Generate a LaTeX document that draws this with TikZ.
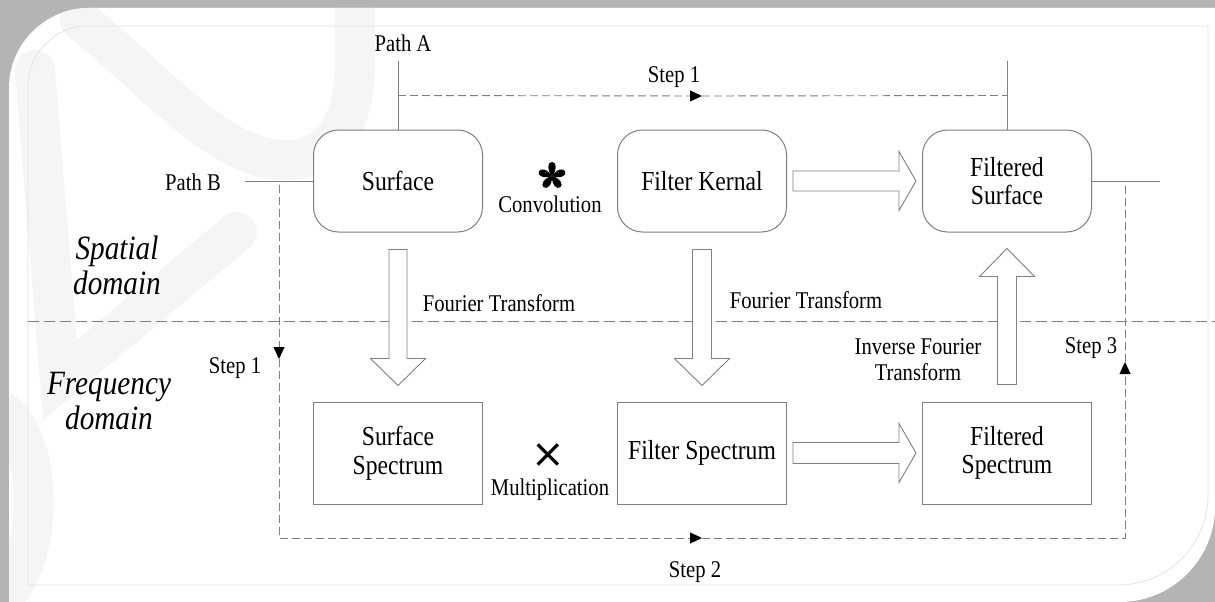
\documentclass[tikz,border=0pt]{standalone}
\usepackage{fontspec}
\setmainfont{Liberation Serif}[FakeStretch=0.86]
\newfontfamily\symfont{DejaVu Sans}
\usetikzlibrary{arrows.meta,calc}
\definecolor{linegray}{HTML}{7F7F7F}
\definecolor{bggray}{HTML}{B4B4B4}
\definecolor{wmgray}{HTML}{F5F5F5}
\definecolor{framegray}{HTML}{E2E2E2}
\begin{document}
\begin{tikzpicture}[x=1pt,y=-1pt,
 box/.style={draw=linegray, line width=1pt, fill=white, minimum width=169pt, minimum height=102pt, align=center, font=\fontsize{27.5}{28.5}\selectfont, inner sep=0pt},
 rbox/.style={box, rounded corners=25pt},
 lbl/.style={font=\fontsize{24}{26}\selectfont, align=center, inner sep=0pt},
 dom/.style={font=\fontsize{34}{35}\selectfont\itshape, align=center, inner sep=0pt},
 sline/.style={draw=linegray, line width=0.9pt},
 dline/.style={draw=linegray, line width=0.9pt, dash pattern=on 8pt off 4pt},
 sepline/.style={draw=linegray, line width=0.9pt, dash pattern=on 11pt off 5pt},
 tip/.style={-{Triangle[length=12pt,width=11pt,black]}},
 barrow/.style={draw=linegray, line width=0.9pt, fill=white},
 wm/.style={draw=wmgray, line width=40pt, line cap=round}
]
\useasboundingbox (0,0) rectangle (1215,602);
% background and panel
\fill[bggray] (0,0) rectangle (1215,602);
\path[fill=white] (9,602) -- (9,88) .. controls (9,44) and (45,8) .. (89,8) -- (1215,8) -- (1215,507) .. controls (1215,559) and (1172,602) .. (1120,602) -- cycle;
\begin{scope}
\clip (9,602) -- (9,88) .. controls (9,44) and (45,8) .. (89,8) -- (1215,8) -- (1215,507) .. controls (1215,559) and (1172,602) .. (1120,602) -- cycle;
\draw[wm] (80,20) .. controls (160,85) and (220,160) .. (285,160) .. controls (335,160) and (355,120) .. (355,60) -- (355,0);
\draw[wm] (35,70) -- (60,380) -- (237,232);
\draw[wm] (0,410) .. controls (45,440) and (45,560) .. (0,600);
\end{scope}
\draw[framegray, line width=0.7pt] (28,585) -- (28,86) .. controls (28,53) and (55,26) .. (88,26) -- (1208,26) -- (1208,495) .. controls (1208,545) and (1168,585) .. (1118,585) -- cycle;

% separator
\draw[sepline] (28,321) -- (1215,321);

% boxes
\node[rbox] (surf) at (398,181) {Surface};
\node[rbox] (fk) at (702,181) {Filter Kernal};
\node[rbox] (fsurf) at (1007,181) {Filtered\\Surface};
\node[box] (sspec) at (398,453) {Surface\\Spectrum};
\node[box] (fspec) at (702,453) {Filter Spectrum};
\node[box] (fdspec) at (1007,453) {Filtered\\Spectrum};

% labels
\node[lbl] (pa) at (403,43) {Path A};
\node[lbl] (pb) at (193,182) {Path B};
\node[lbl] (s1t) at (674,77) {Step 1};
\node[lbl] (s1l) at (235,368) {Step 1};
\node[lbl] (s2) at (695,572) {Step 2};
\node[lbl] (s3) at (1091,348) {Step 3};
\node[lbl] (conv) at (550,204) {Convolution};
\node[lbl] (mult) at (550,490) {Multiplication};
\node[lbl] (ft1) at (499,303) {Fourier Transform};
\node[lbl] (ft2) at (806,300) {Fourier Transform};
\node[lbl] (ift) at (918,360) {Inverse Fourier\\Transform};
\node[dom] (sd) at (117,265) {Spatial\\domain};
\node[dom] (fd) at (109,401) {Frequency\\domain};
\node[inner sep=0pt, font=\symfont\fontsize{40}{40}\selectfont] (times) at (548,456) {×};

% convolution asterisk
\coordinate (star) at (552,176);
\foreach \a in {0,72,144,216,288}
  \fill[black, shift={(star)}, rotate=\a] (0,0) .. controls (-5,-6) and (-4.8,-14) .. (0,-14) .. controls (4.8,-14) and (5,-6) .. (0,0);

% solid path lines
\coordinate (paT) at ($(surf.north)+(0,-68)$);
\coordinate (fsT) at ($(fsurf.north)+(0,-68)$);
\coordinate (pbL) at ($(surf.west)+(-68,0)$);
\coordinate (fsR) at ($(fsurf.east)+(68,0)$);
\draw[sline] (paT) -- (surf.north);
\draw[sline] (fsT) -- (fsurf.north);
\draw[sline] (pbL) -- (surf.west);
\draw[sline] (fsurf.east) -- (fsR);

% dashed step paths
\coordinate (a0) at ($(surf.north)+(0,-34)$);
\coordinate (a1) at (702,96);
\coordinate (a2) at ($(fsurf.north)+(0,-34)$);
\draw[dline,tip] (a0) -- (a1);
\draw[dline] (a1) -- (a2);

\coordinate (b0) at (279,185);
\coordinate (b1) at (279,359);
\coordinate (b2) at (279,538);
\coordinate (b3) at (702,538);
\coordinate (b4) at (1125,538);
\coordinate (b5) at (1125,362);
\coordinate (b6) at (1125,185);
\draw[dline,tip] (b0) -- (b1);
\draw[dline,tip] (b1) -- (b2) -- (b3);
\draw[dline,tip] (b3) -- (b4) -- (b5);
\draw[dline] (b5) -- (b6);

% block arrows
\draw[barrow, shift={(surf.south)}] (-9,17) -- (9,17) -- (9,126) -- (27.5,126) -- (0,153) -- (-27.5,126) -- (-9,126) -- cycle;
\draw[barrow, shift={(fk.south)}] (-9.5,17) -- (9.5,17) -- (9.5,126) -- (27.5,126) -- (0,153) -- (-27.5,126) -- (-9.5,126) -- cycle;
\draw[barrow, shift={(fk.east)}] (6,-10) -- (112,-10) -- (112,-29.5) -- (129,0) -- (112,29.5) -- (112,10) -- (6,10) -- cycle;
\draw[barrow, shift={(fspec.east)}] (6,-10.5) -- (112,-10.5) -- (112,-29.5) -- (129,0) -- (112,29.5) -- (112,10.5) -- (6,10.5) -- cycle;
\draw[barrow, shift={(fdspec.north)}] (-9.5,-17) -- (-9.5,-125) -- (-27.5,-125) -- (0,-153) -- (27.5,-125) -- (9.5,-125) -- (9.5,-17) -- cycle;
\end{tikzpicture}
\end{document}
